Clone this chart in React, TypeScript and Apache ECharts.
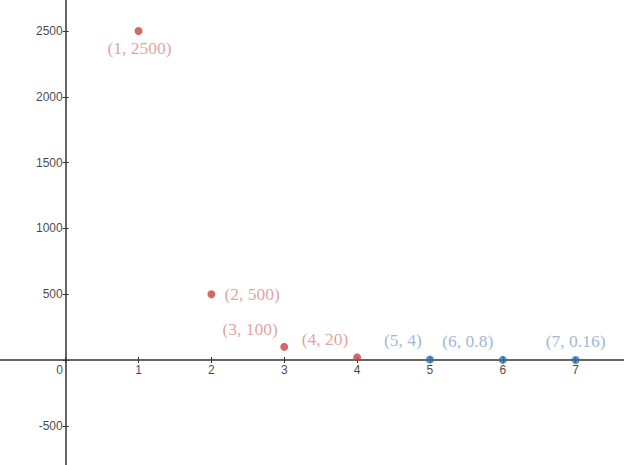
import React, { useEffect, useRef } from "react";
import * as echarts from "echarts";

const redX = [1, 2, 3, 4];
const redY = [2500, 500, 100, 20];
const redLabels = ["(1, 2500)", "(2, 500)", "(3, 100)", "(4, 20)"];
const blueX = [5, 6, 7];
const blueY = [4, 0.8, 0.16];
const blueLabels = ["(5, 4)", "(6, 0.8)", "(7, 0.16)"];
const xTicks = [1, 2, 3, 4, 5, 6, 7];
const yTicks = [-500, 500, 1000, 1500, 2000, 2500];

// label placement (style, not data)
const redPlace: any[] = [
  { position: "bottom", distance: 4, offset: [1, 0] },
  { position: "right", distance: 9, offset: [0, 0] },
  { position: "top", distance: 5, offset: [-34, 0] },
  { position: "top", distance: 5, offset: [-32, 0] },
];
const bluePlace: any[] = [
  { position: "top", distance: 6, offset: [-27, 0] },
  { position: "top", distance: 6, offset: [-35, 0] },
  { position: "top", distance: 6, offset: [0, 0] },
];

const serif = "'Liberation Serif', 'DejaVu Serif', serif";
const sans = "'Liberation Sans', Arial, sans-serif";

export default function App() {
  const ref = useRef<HTMLDivElement>(null);
  useEffect(() => {
    const chart = echarts.init(ref.current!, null, { renderer: "svg" });
    const mk = (xs: number[], ys: number[], labels: string[], place: any[], color: string) =>
      xs.map((x, i) => ({
        value: [x, ys[i]],
        label: {
          show: true,
          formatter: labels[i],
          color,
          fontFamily: serif,
          fontSize: 17.5,
          ...place[i],
        },
      }));
    const tickLabelBase = {
      show: true,
      color: "#111111",
      fontFamily: sans,
      fontSize: 12,
      textBorderWidth: 0,
      textShadowBlur: 0,
    };
    const labelSeries = (data: number[][], label: any) => ({
      type: "scatter",
      silent: true,
      symbolSize: 0,
      itemStyle: { color: "#111111" },
      data,
      label: { ...tickLabelBase, ...label },
    });
    chart.setOption({
      animation: false,
      backgroundColor: "#ffffff",
      grid: {
        left: -7.15,
        right: -24.5,
        top: -34.8,
        bottom: -26.6,
        containLabel: false,
        outerBoundsMode: "none",
      },
      xAxis: [
        {
          type: "value",
          min: -1,
          max: 8,
          interval: 1,
          axisLine: { onZero: true, lineStyle: { color: "#333", width: 1.5 } },
          axisTick: { show: true, length: 3, lineStyle: { color: "#333" } },
          axisLabel: { show: false },
          splitLine: { show: false },
        },
        {
          type: "value",
          min: -1,
          max: 8,
          interval: 1,
          position: "bottom",
          axisLine: { show: false, onZero: true },
          axisTick: { show: true, inside: true, length: 3, lineStyle: { color: "#333" } },
          axisLabel: { show: false },
          splitLine: { show: false },
        },
      ],
      yAxis: [
        {
          type: "value",
          min: -1000,
          max: 3000,
          interval: 500,
          axisLine: { onZero: true, lineStyle: { color: "#333", width: 1.5 } },
          axisTick: { show: true, length: 3, lineStyle: { color: "#333" } },
          axisLabel: { show: false },
          splitLine: { show: false },
        },
        {
          type: "value",
          min: -1000,
          max: 3000,
          interval: 500,
          position: "left",
          axisLine: { show: false, onZero: true },
          axisTick: { show: true, inside: true, length: 3, lineStyle: { color: "#333" } },
          axisLabel: { show: false },
          splitLine: { show: false },
        },
      ],
      series: [
        labelSeries(
          xTicks.map((v) => [v, 0]),
          { position: "bottom", distance: 4, formatter: (p: any) => String(p.value[0]) }
        ),
        labelSeries(
          yTicks.map((v) => [0, v]),
          { position: "left", distance: 3, formatter: (p: any) => String(p.value[1]) }
        ),
        labelSeries([[0, 0]], { position: "bottom", distance: 4, offset: [-6, 0], formatter: "0" }),
        {
          type: "scatter",
          symbolSize: 8,
          itemStyle: { color: "#c74440" },
          data: mk(redX, redY, redLabels, redPlace, "#d98a86"),
        },
        {
          type: "scatter",
          symbolSize: 8,
          itemStyle: { color: "#2d70b3" },
          data: mk(blueX, blueY, blueLabels, bluePlace, "#84a6cc"),
        },
      ],
    });
    return () => chart.dispose();
  }, []);
  return <div ref={ref} style={{ width: 624, height: 465, position: "absolute", left: 0, top: 0 }} />;
}
